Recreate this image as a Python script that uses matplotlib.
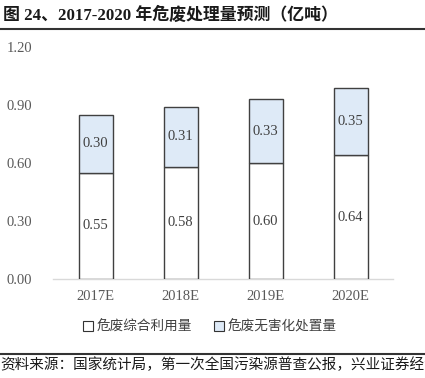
import matplotlib
matplotlib.use("Agg")
import matplotlib.pyplot as plt
from matplotlib.lines import Line2D
from matplotlib.patches import Patch

categories = ["2017E", "2018E", "2019E", "2020E"]
utilization = [0.55, 0.58, 0.60, 0.64]
disposal = [0.30, 0.31, 0.33, 0.35]
yticks = [0.00, 0.30, 0.60, 0.90, 1.20]
series_names = ["危废综合利用量", "危废无害化处置量"]
title = "图 24、2017-2020 年危废处理量预测（亿吨）"
source = "资料来源：国家统计局，第一次全国污染源普查公报，兴业证券经济与金融研究院整理"

plt.rcParams['font.family'] = ['Liberation Serif', 'Noto Sans CJK SC', 'DejaVu Sans']

W, H = 425, 378
fig = plt.figure(figsize=(W / 100, H / 100), dpi=100)

ax = fig.add_axes([53 / W, 1 - 279 / H, (393 - 53) / W, (279 - 47) / H])
x = list(range(len(categories)))
edge = "#404040"
ax.bar(x, utilization, width=0.4, color="white", edgecolor=edge, linewidth=1.0, zorder=3)
ax.bar(x, disposal, width=0.4, bottom=utilization, color="#DEEAF7", edgecolor=edge, linewidth=1.0, zorder=3)

for i in x:
    ax.text(i, utilization[i] / 2, f"{utilization[i]:.2f}", ha="center", va="center",
            fontsize=10.5, color="#404040", family="Liberation Serif", zorder=4)
    ax.text(i, utilization[i] + disposal[i] / 2, f"{disposal[i]:.2f}", ha="center", va="center",
            fontsize=10.5, color="#404040", family="Liberation Serif", zorder=4)

ax.set_xlim(-0.5, len(categories) - 0.5)
ax.set_ylim(0, 1.2)
ax.set_yticks(yticks)
ax.set_yticklabels([f"{v:.2f}" for v in yticks])
ax.set_xticks(x)
ax.set_xticklabels(categories)
for side in ["top", "right", "left"]:
    ax.spines[side].set_visible(False)
ax.spines["bottom"].set_color("#D9D9D9")
ax.spines["bottom"].set_linewidth(1.0)
ax.tick_params(axis="both", length=0, labelsize=10.5, colors="#595959")
ax.tick_params(axis="y", pad=15)
ax.tick_params(axis="x", pad=8)

handles = [Patch(facecolor="white", edgecolor="#333333", linewidth=0.8),
           Patch(facecolor="#DEEAF7", edgecolor="#333333", linewidth=0.8)]
fig.legend(handles, series_names, loc="center", bbox_to_anchor=(210 / W, 1 - 327 / H),
           ncol=2, frameon=False, handlelength=0.7, handleheight=0.7, handletextpad=0.3,
           columnspacing=1.6, prop={"family": ["Noto Sans CJK SC"], "size": 9.8},
           labelcolor="#404040")

fig.text(3 / W, 1 - 15 / H, title, ha="left", va="center", fontsize=12.2, fontweight="bold",
         color="#1a1a1a", family=["Liberation Serif", "Noto Sans CJK SC"])
fig.add_artist(Line2D([0, 1], [1 - 29 / H, 1 - 29 / H], color="#333333", linewidth=1.5,
                      transform=fig.transFigure))
fig.add_artist(Line2D([0, 1], [1 - 354 / H, 1 - 354 / H], color="#333333", linewidth=1.5,
                      transform=fig.transFigure))
fig.text(0 / W, 1 - 365 / H, source, ha="left", va="center", fontsize=10.5,
         color="#1a1a1a", family=["Noto Sans CJK SC"])

fig.savefig("out.png", dpi=100)
